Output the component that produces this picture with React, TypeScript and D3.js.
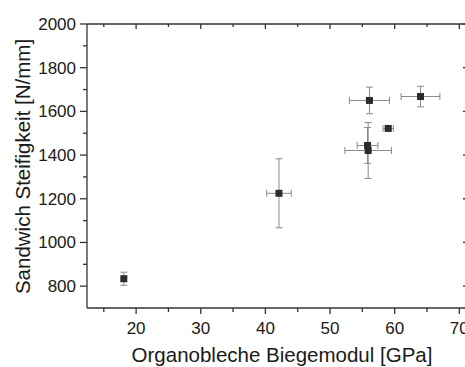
import React from "react";
import * as d3 from "d3";

const xValues = [18.1, 42.1, 56.1, 64.0, 59.0, 55.8, 55.9];
const yValues = [834, 1225, 1650, 1668, 1522, 1444, 1421];
const xErrors = [0.3, 1.9, 3.1, 3.0, 0.8, 1.6, 3.6];
const yErrors = [30, 158, 61, 47, 8, 82, 128];
const xTicks = [20, 30, 40, 50, 60, 70];
const yTicks = [800, 1000, 1200, 1400, 1600, 1800, 2000];
const xTitle = "Organobleche Biegemodul [GPa]";
const yTitle = "Sandwich Steifigkeit [N/mm]";

const W = 465, H = 367;
const left = 87, right = 469, top = 24, bottom = 308;
const x = d3.scaleLinear().domain([12.4, 71.5]).range([left, right]);
const y = d3.scaleLinear().domain([700, 2000]).range([bottom, top]);

const xMinor = d3.range(15, 72, 10);
const yMinor = d3.range(900, 2000, 200);

const font = "Liberation Sans, Arial, sans-serif";
const axisColor = "#333";
const errColor = "#8a8a8a";

export default function App() {
  const cap = 3.5;
  return (
    <svg width={W} height={H} style={{ position: "absolute", left: 0, top: 0, background: "#fff" }}>
      {/* error bars */}
      {xValues.map((xv, i) => {
        const cx = x(xv), cy = y(yValues[i]);
        const x0 = x(xv - xErrors[i]), x1 = x(xv + xErrors[i]);
        const y0 = y(yValues[i] - yErrors[i]), y1 = y(yValues[i] + yErrors[i]);
        return (
          <g key={"e" + i} stroke={errColor} strokeWidth={1}>
            <line x1={x0} x2={x1} y1={cy} y2={cy} />
            <line x1={x0} x2={x0} y1={cy - cap} y2={cy + cap} />
            <line x1={x1} x2={x1} y1={cy - cap} y2={cy + cap} />
            <line x1={cx} x2={cx} y1={y0} y2={y1} />
            <line x1={cx - cap} x2={cx + cap} y1={y0} y2={y0} />
            <line x1={cx - cap} x2={cx + cap} y1={y1} y2={y1} />
          </g>
        );
      })}
      {/* markers */}
      {xValues.map((xv, i) => (
        <rect key={"m" + i} x={x(xv) - 3.5} y={y(yValues[i]) - 3.5} width={7} height={7} fill="#2b2b2b" />
      ))}
      {/* frame */}
      <g stroke={axisColor} strokeWidth={1.3} fill="none">
        <line x1={left} x2={right} y1={bottom} y2={bottom} />
        <line x1={left} x2={right} y1={top} y2={top} />
        <line x1={left} x2={left} y1={top} y2={bottom} />
        <line x1={right} x2={right} y1={top} y2={bottom} />
        {xTicks.map((t) => (
          <g key={"xt" + t}>
            <line x1={x(t)} x2={x(t)} y1={bottom} y2={bottom + 6} />
            <line x1={x(t)} x2={x(t)} y1={top} y2={top + 5} />
          </g>
        ))}
        {xMinor.map((t) => (
          <g key={"xm" + t}>
            <line x1={x(t)} x2={x(t)} y1={bottom} y2={bottom + 4} />
            <line x1={x(t)} x2={x(t)} y1={top} y2={top + 3} />
          </g>
        ))}
        {yTicks.map((t) => (
          <g key={"yt" + t}>
            <line x1={left - 7} x2={left} y1={y(t)} y2={y(t)} />
            <line x1={right - 6} x2={right} y1={y(t)} y2={y(t)} />
          </g>
        ))}
        {yMinor.map((t) => (
          <g key={"ym" + t}>
            <line x1={left - 4} x2={left} y1={y(t)} y2={y(t)} />
            <line x1={right - 4} x2={right} y1={y(t)} y2={y(t)} />
          </g>
        ))}
      </g>
      {/* tick labels */}
      <g fontFamily={font} fontSize={17} fill="#1a1a1a">
        {xTicks.map((t) => (
          <text key={"xl" + t} x={x(t)} y={333.5} textAnchor="middle">{t}</text>
        ))}
        {yTicks.map((t) => (
          <text key={"yl" + t} x={76} y={y(t) + 6} textAnchor="end">{t}</text>
        ))}
      </g>
      {/* titles */}
      <text x={282} y={361.5} textAnchor="middle" fontFamily={font} fontSize={20.5} fill="#1a1a1a">{xTitle}</text>
      <text transform={`translate(30,166.5) rotate(-90)`} textAnchor="middle" fontFamily={font} fontSize={20.5} fill="#1a1a1a">{yTitle}</text>
    </svg>
  );
}
